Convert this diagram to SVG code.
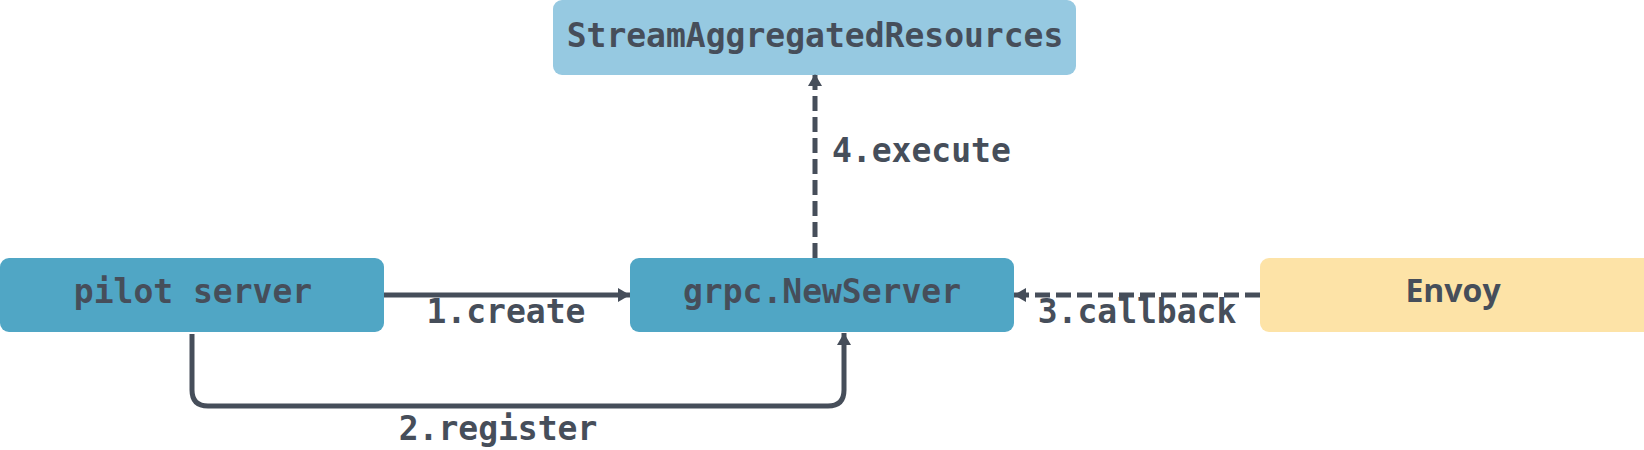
<svg xmlns="http://www.w3.org/2000/svg" width="1644" height="450" viewBox="0 0 1644 450">
<defs>
<style>
.box{stroke:none}
.mono{font-family:"DejaVu Sans Mono","Liberation Mono",monospace;font-weight:bold;font-size:33px;fill:#464e5a}
.sans{font-family:"Open Sans","DejaVu Sans",sans-serif;font-weight:bold;font-size:32px;fill:#464e5a}
.conn{fill:none;stroke:#464e5a;stroke-width:5}
.dash{stroke-dasharray:15 6}
</style>
<marker id="arr" viewBox="0 0 12 14" refX="12" refY="7" markerWidth="12" markerHeight="14" markerUnits="userSpaceOnUse" orient="auto">
<path d="M0,0 L12,7 L0,14 Z" fill="#464e5a"/>
</marker>
</defs>
<g id="node-sar">
<rect class="box" x="553" y="0" width="523" height="75" rx="9" fill="#96c9e1"/>
<text class="mono" x="815" y="47" text-anchor="middle">StreamAggregatedResources</text>
</g>
<g id="node-pilot">
<rect class="box" x="0" y="258" width="384" height="74" rx="9" fill="#50a6c5"/>
<text class="mono" x="193" y="303" text-anchor="middle">pilot server</text>
</g>
<g id="node-grpc">
<rect class="box" x="630" y="258" width="384" height="74" rx="9" fill="#50a6c5"/>
<text class="mono" x="822" y="303" text-anchor="middle">grpc.NewServer</text>
</g>
<g id="node-envoy">
<rect class="box" x="1260" y="258" width="394" height="74" rx="9" fill="#fde3a7"/>
<text class="sans" x="1453" y="302" text-anchor="middle">Envoy</text>
</g>
<g id="connectors">
<path class="conn" d="M384,295 L630,295" marker-end="url(#arr)"/>
<path class="conn" d="M192,334 L192,390 Q192,406 208,406 L828,406 Q844,406 844,390 L844,333" marker-end="url(#arr)"/>
<path class="conn dash" d="M1260,295 L1014,295" marker-end="url(#arr)"/>
<path class="conn dash" d="M815,258 L815,74" marker-end="url(#arr)"/>
<text class="mono" x="506" y="323" text-anchor="middle">1.create</text>
<text class="mono" x="498" y="440" text-anchor="middle">2.register</text>
<text class="mono" x="1137" y="323" text-anchor="middle">3.callback</text>
<text class="mono" x="832" y="162">4.execute</text>
</g>
</svg>
